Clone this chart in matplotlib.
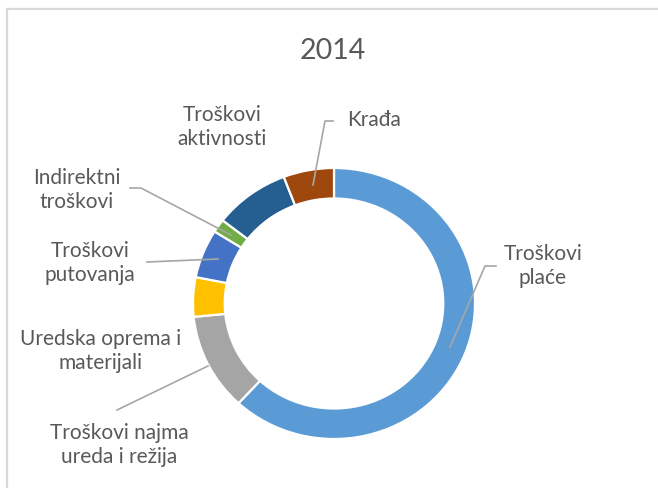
import matplotlib
matplotlib.use("Agg")
import matplotlib.pyplot as plt

title = "2014"
categories = ["Troškovi plaće", "Troškovi najma ureda i režija", "Uredska oprema i materijali",
              "Troškovi putovanja", "Indirektni troškovi", "Troškovi aktivnosti", "Krađa"]
values = [61.9, 11.6, 4.7, 5.8, 1.6, 8.7, 5.8]
label_lines = ["Troškovi\nplaće", "Troškovi najma\nureda i režija", "Uredska oprema i\nmaterijali",
               "Troškovi\nputovanja", "Indirektni\ntroškovi", "Troškovi\naktivnosti", "Krađa"]
colors = ["#5B9BD5", "#A5A5A5", "#FFC000", "#4472C4", "#70AD47", "#255E91", "#9E480E"]

W, H = 658, 488
plt.rcParams['font.family'] = ['Lato', 'DejaVu Sans']
fig = plt.figure(figsize=(W / 100, H / 100), dpi=100)
fig.patch.set_facecolor("white")

# donut axes (pixel box)
left, right, top, bottom = 193, 475, 168, 439
pa = fig.add_axes([left / W, (H - bottom) / H, (right - left) / W, (bottom - top) / H])
pa.pie(values, colors=colors, startangle=90, counterclock=False, radius=1,
       wedgeprops=dict(width=0.225, edgecolor="white", linewidth=1.6))
pa.set_aspect("auto")
pa.set_xlim(-1, 1)
pa.set_ylim(-1, 1)
pa.axis("off")

# overlay axes in pixel coords (on top)
ov = fig.add_axes([0, 0, 1, 1])
ov.set_zorder(5)
ov.patch.set_alpha(0)
ov.set_xlim(0, W)
ov.set_ylim(H, 0)
ov.axis("off")

# border
ov.plot([7, 7], [9, H], color="#D9D9D9", lw=1.6, solid_capstyle="butt")
ov.plot([6, W], [9, 9], color="#D9D9D9", lw=1.6, solid_capstyle="butt")

txt = "#595959"
ov.text(333, 51, title, ha="center", va="center", fontsize=20.5, color=txt)

label_pos = [(543, 266), (119, 445), (101, 351), (90, 263), (77, 190), (222, 127), (374, 120)]
for (x, y), t in zip(label_pos, label_lines):
    ov.text(x, y, t, ha="center", va="center", fontsize=15, color=txt,
            multialignment="center", linespacing=1.2)

leaders = [
    [(450, 347), (485, 266), (496, 266)],
    [(208, 366), (117, 410)],
    [(218, 259), (147, 262)],
    [(231, 235), (141, 188), (130, 188)],
    [(313, 185), (325, 121), (333, 121)],
]
for pts in leaders:
    xs = [p[0] for p in pts]
    ys = [p[1] for p in pts]
    ov.plot(xs, ys, color="#A6A6A6", lw=1.2)

fig.savefig("out.png", dpi=100)
